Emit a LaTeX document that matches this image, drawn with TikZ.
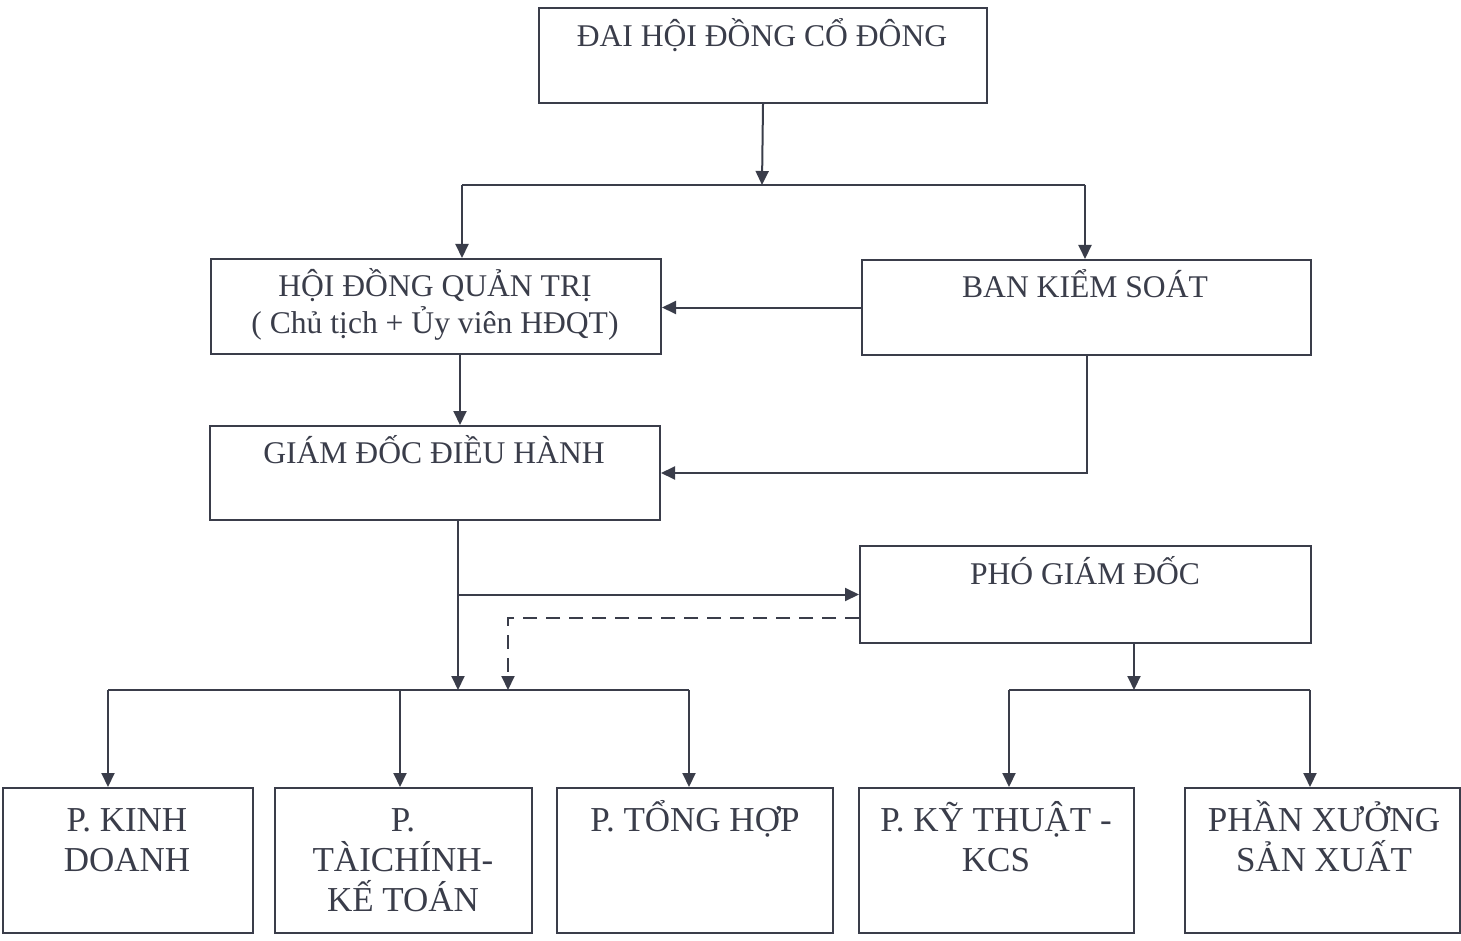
\documentclass[tikz,border=0pt]{standalone}
\usepackage{fontspec}
\setmainfont{Liberation Serif}
\usetikzlibrary{arrows.meta}
\definecolor{ink}{HTML}{3A3D4A}
\begin{document}
\begin{tikzpicture}[x=1pt,y=-1pt,
  ln/.style={draw=ink,line width=2pt},
  arr/.style={ln,-{Triangle[width=13pt,length=14pt]}},
  box/.style={draw=ink,line width=2pt,anchor=north west,inner sep=0pt},
  lbl/.style={text=ink,font=\fontsize{31.6}{40}\selectfont,align=center,anchor=base,inner sep=0pt},
  lblb/.style={lbl,font=\fontsize{35}{40}\selectfont}]
\useasboundingbox (0,0) rectangle (1461,941);
% boxes
\node[box,minimum width=448pt,minimum height=95pt] (b1) at (538,7) {};
\node[box,minimum width=450pt,minimum height=95pt] (b2) at (210,258) {};
\node[box,minimum width=449pt,minimum height=95pt] (b3) at (861,259) {};
\node[box,minimum width=450pt,minimum height=94pt] (b4) at (209,425) {};
\node[box,minimum width=451pt,minimum height=97pt] (b5) at (859,545) {};
\node[box,minimum width=250pt,minimum height=145pt] (b6) at (2,787) {};
\node[box,minimum width=257pt,minimum height=145pt] (b7) at (274,787) {};
\node[box,minimum width=276pt,minimum height=145pt] (b8) at (556,787) {};
\node[box,minimum width=275pt,minimum height=145pt] (b9) at (858,787) {};
\node[box,minimum width=275pt,minimum height=145pt] (b10) at (1184,787) {};
% labels (multi-line nodes: base = last line's baseline)
\node[lbl] (t1) at (762,47) {ĐAI HỘI ĐỒNG CỔ ĐÔNG};
\node[lbl,font=\fontsize{31.6}{37}\selectfont] (t2) at (435,333) {HỘI ĐỒNG QUẢN TRỊ\\( Chủ tịch + Ủy viên HĐQT)};
\node[lbl] (t3) at (1085,298) {BAN KIỂM SOÁT};
\node[lbl] (t4) at (434,463) {GIÁM ĐỐC ĐIỀU HÀNH};
\node[lbl] (t5) at (1085,584) {PHÓ GIÁM ĐỐC};
\node[lblb] (t6) at (127,871) {P. KINH\\DOANH};
\node[lblb] (t7) at (403,911) {P.\\TÀICHÍNH-\\KẾ TOÁN};
\node[lblb] (t8) at (695,831) {P. TỔNG HỢP};
\node[lblb] (t9) at (996,871) {P. KỸ THUẬT -\\KCS};
\node[lblb] (t10) at (1324,871) {PHẦN XƯỞNG\\SẢN XUẤT};
% junction coordinates
\coordinate (j1) at (762,185);
\coordinate (jl) at (462,185);
\coordinate (jr) at (1085,185);
\coordinate (c2) at (460,0);
\coordinate (j3) at (458,690);
\coordinate (d0) at (859,618);
\coordinate (d1) at (508,690);
\coordinate (bA) at (108,690);
\coordinate (bB) at (400,690);
\coordinate (bC) at (689,690);
\coordinate (j4) at (1134,690);
\coordinate (bD) at (1009,690);
\coordinate (bE) at (1310,690);
% connectors
\draw[arr] (b1.south) -- (j1);
\draw[ln] (jl) -- (jr);
\draw[arr] (jl) -- (jl |- b2.north);
\draw[arr] (jr) -- (jr |- b3.north);
\draw[arr] (b3.west) -- (b3.west -| b2.east);
\draw[arr] (b2.south -| c2) -- (b4.north -| c2);
\draw[arr] (b3.south) |- (b4.east);
\draw[arr] (b4.south -| j3) -- (j3);
\draw[arr] (b4.south -| j3) |- (b5.west);
\draw[arr,dash pattern=on 14pt off 9pt] (d0) -| (d1);
\draw[ln] (bA) -- (bC);
\draw[arr] (bA) -- (bA |- b6.north);
\draw[arr] (bB) -- (bB |- b7.north);
\draw[arr] (bC) -- (bC |- b8.north);
\draw[arr] (b5.south -| j4) -- (j4);
\draw[ln] (bD) -- (bE);
\draw[arr] (bD) -- (bD |- b9.north);
\draw[arr] (bE) -- (bE |- b10.north);
\end{tikzpicture}
\end{document}
